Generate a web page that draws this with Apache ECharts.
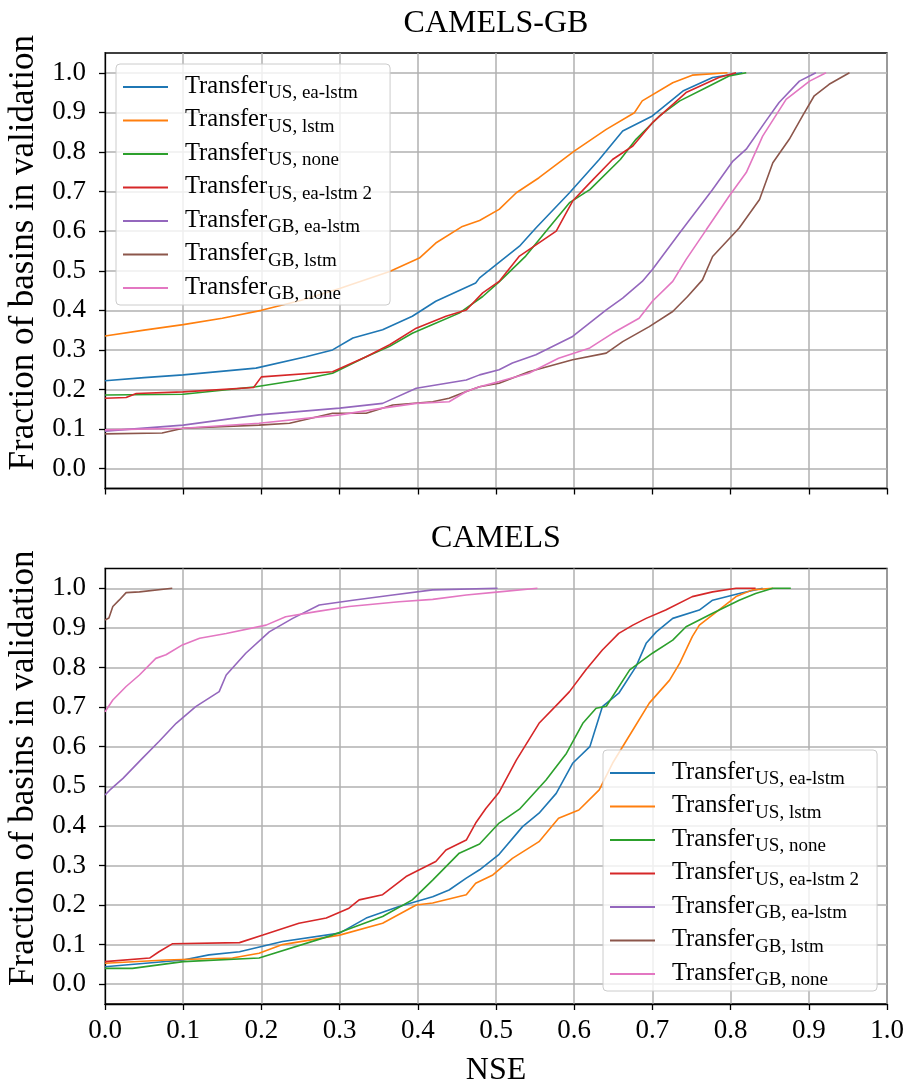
<!DOCTYPE html>
<html>
<head>
<meta charset="utf-8">
<script src="https://cdn.jsdelivr.net/npm/echarts@6/dist/echarts.min.js"></script>
<style>
  html, body { margin: 0; padding: 0; background: #ffffff; }
  #chart { width: 908px; height: 1084px; }
</style>
</head>
<body>
<div id="chart"></div>
<script>
// Empirical distributions of NSE per basin: [NSE, fraction of basins]

// Panel 1: CAMELS-GB
const gbUsEaLstm = [[0,0.222],[0.05,0.230],[0.1,0.237],[0.193,0.254],[0.257,0.283],[0.291,0.300],[0.317,0.330],[0.355,0.351],[0.393,0.385],[0.423,0.423],[0.474,0.469],[0.479,0.482],[0.530,0.562],[0.551,0.608],[0.594,0.697],[0.632,0.781],[0.662,0.853],[0.700,0.891],[0.739,0.954],[0.777,0.988],[0.815,1.0]];
const gbUsLstm = [[0,0.335],[0.05,0.350],[0.1,0.364],[0.15,0.380],[0.2,0.400],[0.25,0.425],[0.3,0.455],[0.364,0.498],[0.402,0.532],[0.423,0.570],[0.457,0.612],[0.479,0.627],[0.504,0.655],[0.526,0.697],[0.555,0.735],[0.600,0.802],[0.641,0.857],[0.677,0.899],[0.687,0.929],[0.726,0.975],[0.751,0.994],[0.796,1.0]];
const gbUsNone = [[0,0.186],[0.1,0.188],[0.193,0.207],[0.248,0.224],[0.291,0.241],[0.334,0.283],[0.364,0.309],[0.393,0.342],[0.419,0.364],[0.453,0.393],[0.483,0.435],[0.504,0.472],[0.538,0.537],[0.564,0.600],[0.594,0.672],[0.620,0.705],[0.659,0.781],[0.679,0.832],[0.709,0.891],[0.735,0.929],[0.769,0.963],[0.798,0.992],[0.820,1.0]];
const gbUsEaLstm2 = [[0,0.178],[0.027,0.180],[0.040,0.190],[0.1,0.194],[0.19,0.205],[0.2,0.232],[0.291,0.245],[0.334,0.283],[0.364,0.313],[0.398,0.355],[0.436,0.385],[0.462,0.401],[0.483,0.444],[0.504,0.473],[0.530,0.537],[0.577,0.600],[0.598,0.676],[0.620,0.722],[0.649,0.781],[0.675,0.815],[0.700,0.874],[0.743,0.950],[0.785,0.988],[0.807,1.0]];
const gbGbEaLstm = [[0,0.095],[0.1,0.110],[0.197,0.136],[0.3,0.153],[0.355,0.165],[0.398,0.203],[0.462,0.224],[0.479,0.237],[0.504,0.250],[0.521,0.267],[0.551,0.288],[0.598,0.334],[0.641,0.401],[0.662,0.431],[0.687,0.473],[0.700,0.503],[0.735,0.596],[0.777,0.705],[0.803,0.777],[0.820,0.807],[0.845,0.878],[0.862,0.925],[0.888,0.979],[0.909,1.0]];
const gbGbLstm = [[0,0.088],[0.073,0.090],[0.1,0.102],[0.197,0.110],[0.236,0.115],[0.291,0.140],[0.334,0.140],[0.368,0.161],[0.419,0.169],[0.44,0.178],[0.462,0.195],[0.479,0.207],[0.504,0.216],[0.542,0.245],[0.598,0.275],[0.641,0.292],[0.662,0.321],[0.696,0.359],[0.726,0.397],[0.745,0.435],[0.764,0.477],[0.777,0.536],[0.811,0.608],[0.837,0.680],[0.854,0.773],[0.875,0.832],[0.892,0.891],[0.907,0.942],[0.926,0.971],[0.952,1.0]];
const gbGbNone = [[0,0.098],[0.1,0.102],[0.197,0.115],[0.3,0.136],[0.355,0.153],[0.398,0.165],[0.44,0.169],[0.462,0.195],[0.479,0.207],[0.504,0.220],[0.542,0.241],[0.58,0.279],[0.62,0.305],[0.649,0.342],[0.683,0.380],[0.700,0.423],[0.726,0.473],[0.743,0.528],[0.769,0.604],[0.798,0.688],[0.820,0.748],[0.841,0.840],[0.871,0.933],[0.901,0.979],[0.922,1.0]];

// Panel 2: CAMELS
const usUsEaLstm = [[0,0.044],[0.1,0.061],[0.133,0.074],[0.172,0.082],[0.227,0.108],[0.3,0.129],[0.334,0.167],[0.376,0.196],[0.419,0.221],[0.44,0.238],[0.462,0.268],[0.479,0.289],[0.504,0.328],[0.534,0.398],[0.555,0.432],[0.577,0.482],[0.598,0.558],[0.620,0.600],[0.636,0.701],[0.657,0.735],[0.679,0.802],[0.692,0.861],[0.705,0.890],[0.726,0.924],[0.760,0.945],[0.777,0.970],[0.811,0.987],[0.841,1.0]];
const usUsLstm = [[0,0.053],[0.078,0.061],[0.163,0.066],[0.197,0.078],[0.227,0.100],[0.3,0.124],[0.355,0.154],[0.398,0.200],[0.419,0.205],[0.462,0.226],[0.474,0.255],[0.496,0.276],[0.521,0.318],[0.555,0.360],[0.58,0.419],[0.606,0.440],[0.632,0.491],[0.649,0.558],[0.675,0.642],[0.696,0.710],[0.722,0.768],[0.735,0.811],[0.751,0.878],[0.760,0.907],[0.777,0.933],[0.807,0.979],[0.828,0.996],[0.854,1.0]];
const usUsNone = [[0,0.040],[0.035,0.040],[0.1,0.057],[0.197,0.066],[0.291,0.124],[0.355,0.171],[0.393,0.213],[0.419,0.263],[0.453,0.331],[0.479,0.354],[0.504,0.407],[0.530,0.442],[0.564,0.516],[0.590,0.583],[0.611,0.659],[0.628,0.697],[0.641,0.702],[0.671,0.794],[0.700,0.836],[0.726,0.869],[0.743,0.903],[0.777,0.937],[0.811,0.970],[0.832,0.987],[0.854,1.0],[0.877,1.0]];
const usUsEaLstm2 = [[0,0.057],[0.057,0.066],[0.069,0.082],[0.086,0.102],[0.172,0.105],[0.202,0.124],[0.248,0.154],[0.283,0.167],[0.312,0.192],[0.325,0.213],[0.355,0.226],[0.385,0.272],[0.402,0.289],[0.423,0.310],[0.436,0.339],[0.462,0.364],[0.474,0.407],[0.487,0.444],[0.504,0.485],[0.526,0.566],[0.542,0.617],[0.555,0.659],[0.580,0.710],[0.594,0.739],[0.615,0.794],[0.636,0.844],[0.657,0.886],[0.675,0.907],[0.692,0.924],[0.717,0.945],[0.751,0.979],[0.777,0.991],[0.807,1.0],[0.832,1.0]];
const usGbEaLstm = [[0,0.478],[0.006,0.490],[0.023,0.520],[0.048,0.571],[0.069,0.613],[0.091,0.659],[0.116,0.701],[0.146,0.739],[0.155,0.781],[0.180,0.836],[0.210,0.890],[0.240,0.924],[0.274,0.958],[0.317,0.970],[0.368,0.983],[0.419,0.996],[0.502,1.0]];
const usGbLstm = [[0,0.920],[0.005,0.925],[0.010,0.954],[0.018,0.970],[0.027,0.989],[0.044,0.991],[0.086,1.0]];
const usGbNone = [[0,0.688],[0.010,0.718],[0.027,0.752],[0.044,0.781],[0.065,0.823],[0.078,0.832],[0.099,0.857],[0.121,0.874],[0.155,0.886],[0.206,0.907],[0.231,0.928],[0.270,0.941],[0.312,0.954],[0.376,0.966],[0.419,0.972],[0.462,0.983],[0.504,0.991],[0.553,1.0]];

// Legend labels: "Transfer" with a subscript (source region, model variant)
const runSources = ['US', 'US', 'US', 'US', 'GB', 'GB', 'GB'];
const runVariants = ['ea-lstm', 'lstm', 'none', 'ea-lstm 2', 'ea-lstm', 'lstm', 'none'];
const runColors = ['#1f77b4', '#ff7f0e', '#2ca02c', '#d62728', '#9467bd', '#8c564b', '#e377c2'];

const panelTitles = ['CAMELS-GB', 'CAMELS'];
const panelData = [
  [gbUsEaLstm, gbUsLstm, gbUsNone, gbUsEaLstm2, gbGbEaLstm, gbGbLstm, gbGbNone],
  [usUsEaLstm, usUsLstm, usUsNone, usUsEaLstm2, usGbEaLstm, usGbLstm, usGbNone]
];
const xTicks = [0, 0.1, 0.2, 0.3, 0.4, 0.5, 0.6, 0.7, 0.8, 0.9, 1.0];
const yTicks = [0, 0.1, 0.2, 0.3, 0.4, 0.5, 0.6, 0.7, 0.8, 0.9, 1.0];
const xLabel = 'NSE';
const yLabel = 'Fraction of basins in validation';

const FONT = 'Liberation Serif';
const runNames = runSources.map((s, i) => s + ', ' + runVariants[i]);

const gridLayout = [
  { left: 105, top: 53, width: 782, height: 435.5 },
  { left: 105, top: 568.5, width: 782, height: 435.5 }
];
const legendPos = [
  { left: 116, top: 64 },
  { left: 603, top: 750 }
];

function axisLineStyle() { return { color: '#000', width: 1.3 }; }

const option = {
  backgroundColor: '#ffffff',
  animation: false,
  title: panelTitles.map((t, i) => ({
    text: t,
    left: 496,
    textAlign: 'center',
    top: i === 0 ? 8 : 523,
    padding: 0,
    textStyle: { fontFamily: FONT, fontSize: 32, fontWeight: 'normal', color: '#000' }
  })),
  grid: gridLayout.map(g => Object.assign({
    show: true, borderColor: '#000', borderWidth: 1.3, backgroundColor: 'transparent',
    containLabel: false, outerBoundsMode: 'none'
  }, g)),
  xAxis: gridLayout.map((g, i) => ({
    type: 'value', gridIndex: i, min: 0, max: 1, interval: 0.1,
    axisLine: { show: true, onZero: false, lineStyle: axisLineStyle() },
    axisTick: { show: true, inside: false, length: 6, lineStyle: axisLineStyle() },
    axisLabel: {
      show: i === 1, showMinLabel: true, showMaxLabel: true, hideOverlap: false,
      formatter: v => v.toFixed(1), fontFamily: FONT, fontSize: 27, color: '#000', margin: 13
    },
    splitLine: { show: true, lineStyle: { color: '#b0b0b0', width: 1.5 } },
    name: i === 1 ? xLabel : '',
    nameLocation: 'middle', nameGap: 51,
    nameTextStyle: { fontFamily: FONT, fontSize: 32, color: '#000' }
  })),
  yAxis: gridLayout.map((g, i) => ({
    type: 'value', gridIndex: i, min: -0.05, max: 1.05,
    axisLine: { show: true, onZero: false, lineStyle: axisLineStyle() },
    axisTick: { show: true, inside: false, length: 6, customValues: yTicks, lineStyle: axisLineStyle() },
    axisLabel: {
      customValues: yTicks, formatter: v => v.toFixed(1),
      fontFamily: FONT, fontSize: 27, color: '#000', margin: 19
    },
    splitLine: { show: true, lineStyle: { color: '#b0b0b0', width: 1.5 } },
    name: yLabel, nameLocation: 'middle', nameGap: 61,
    nameTextStyle: { fontFamily: FONT, fontSize: 35, color: '#000', padding: [0, 0, 0, 36] }
  })),
  legend: legendPos.map((p, i) => ({
    left: p.left, top: p.top, orient: 'vertical',
    icon: 'rect', itemWidth: 45, itemHeight: 2, itemGap: 4.5,
    padding: [10, 18, 1, 7],
    backgroundColor: 'rgba(255,255,255,0.8)', borderColor: '#cccccc', borderWidth: 1, borderRadius: 4,
    selectedMode: false,
    data: runNames,
    formatter: name => {
      const k = runNames.indexOf(name);
      return '{m|Transfer}{s|' + runSources[k] + ', ' + runVariants[k] + '}';
    },
    textStyle: {
      padding: [0, 0, 0, 12],
      rich: {
        m: { fontFamily: FONT, fontSize: 24.5, lineHeight: 26, verticalAlign: 'top', color: '#000' },
        s: { fontFamily: FONT, fontSize: 19, lineHeight: 18, verticalAlign: 'top', padding: [10, 0, 0, 1], color: '#000' }
      }
    }
  })),
  series: []
};

panelData.forEach((runs, p) => {
  runs.forEach((pts, k) => {
    option.series.push({
      type: 'line', name: runNames[k],
      xAxisIndex: p, yAxisIndex: p,
      data: pts, showSymbol: false, symbol: 'none',
      color: runColors[k],
      lineStyle: { color: runColors[k], width: 1.6 },
      emphasis: { disabled: true },
      clip: true
    });
  });
});

const chart = echarts.init(document.getElementById('chart'), null, { renderer: 'canvas' });
chart.setOption(option);
</script>
</body>
</html>
